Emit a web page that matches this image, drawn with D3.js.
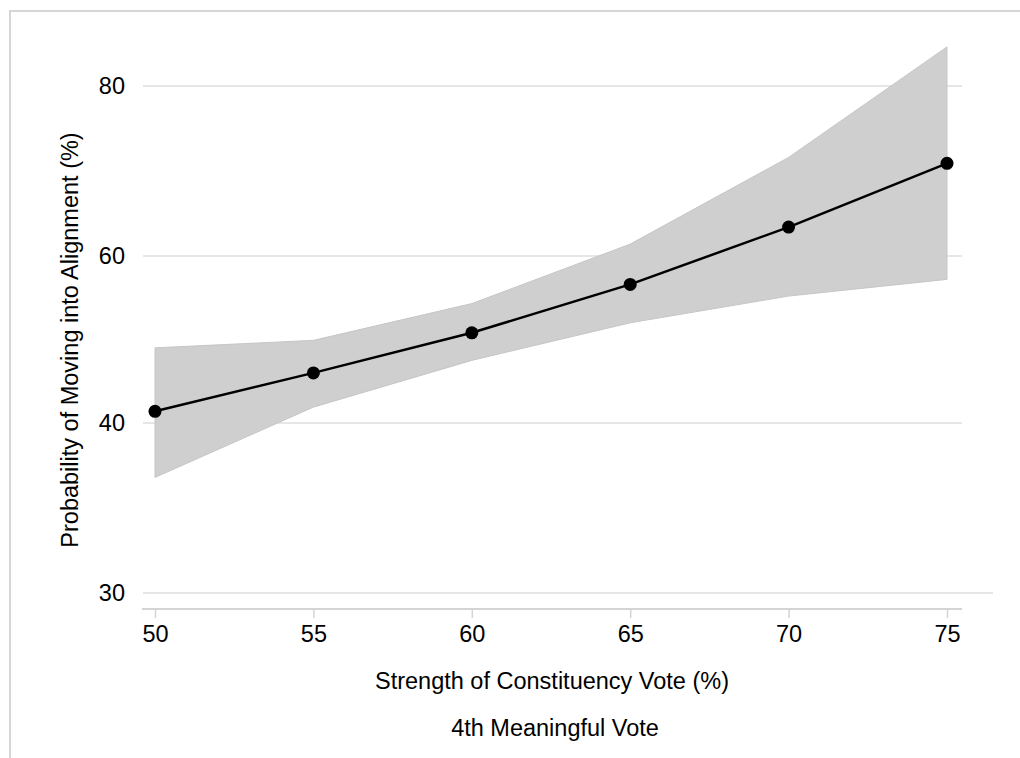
<!DOCTYPE html>
<html>
<head>
<meta charset="utf-8">
<script src="https://cdn.jsdelivr.net/npm/d3@7"></script>
<style>
  body { margin: 0; background: #fff; }
  svg { display: block; font-family: "Liberation Sans", Arial, sans-serif; }
</style>
</head>
<body>
<div id="chart"></div>
<script>
// values
const voteShare = [50, 55, 60, 65, 70, 75];
const probability = [41.4, 46.0, 50.8, 56.6, 63.4, 70.9];
const upperCI = [49.0, 49.9, 54.3, 61.4, 71.6, 84.6];
const lowerCI = [36.8, 41.9, 47.5, 52.0, 55.2, 57.2];
const yTicks = [30, 40, 60, 80];
const xTicks = [50, 55, 60, 65, 70, 75];

const width = 1020, height = 758;
const fontSize = 23.5;

const svg = d3.select('#chart')
    .append('svg')
        .attr('width', width)
        .attr('height', height);

// frame (top + left only, like the source)
svg.append('path')
    .attr('d', 'M10,' + height + 'V11H' + width)
    .attr('fill', 'none')
    .attr('stroke', '#d6d6d6')
    .attr('stroke-width', 2);

const x = d3.scaleLinear()
    .domain([50, 75])
    .range([155, 947]);

// the y ticks are spaced evenly even though the values are not
const y = d3.scaleLinear()
    .domain(yTicks)
    .range([593, 423, 256, 86]);

// gridlines
svg.append('g')
    .selectAll('line')
    .data(yTicks)
    .enter()
    .append('line')
        .attr('x1', 143)
        .attr('x2', d => d === 30 ? 993 : 962)
        .attr('y1', d => y(d))
        .attr('y2', d => y(d))
        .attr('stroke', '#e6e6e6')
        .attr('stroke-width', 2);

// y tick labels
svg.append('g')
    .selectAll('text')
    .data(yTicks)
    .enter()
    .append('text')
        .attr('x', 125)
        .attr('y', d => y(d))
        .attr('dy', '0.35em')
        .attr('text-anchor', 'end')
        .attr('font-size', fontSize)
        .attr('fill', '#000')
        .text(d => d);

// confidence band
const band = d3.area()
    .x((d, i) => x(voteShare[i]))
    .y0((d, i) => y(lowerCI[i]))
    .y1((d, i) => y(upperCI[i]));

svg.append('path')
    .datum(voteShare)
    .attr('d', band)
    .attr('fill', '#cfcfcf')
    .attr('stroke', '#c6c6c6')
    .attr('stroke-width', 1);

// x axis
const axis = d3.axisBottom(x)
    .tickValues(xTicks)
    .tickSize(9)
    .tickPadding(7)
    .tickFormat(d3.format('d'));

const gx = svg.append('g')
    .attr('transform', 'translate(0,609)')
    .call(axis);
gx.select('.domain').remove();
gx.selectAll('.tick line').attr('stroke', '#d4d4d4').attr('stroke-width', 1.5);
gx.selectAll('.tick text')
    .attr('font-size', fontSize)
    .attr('font-family', '"Liberation Sans", Arial, sans-serif')
    .attr('fill', '#000');

svg.append('line')
    .attr('x1', 142)
    .attr('x2', 962)
    .attr('y1', 609)
    .attr('y2', 609)
    .attr('stroke', '#d4d4d4')
    .attr('stroke-width', 2);

// estimate line + markers
const line = d3.line()
    .x((d, i) => x(voteShare[i]))
    .y((d, i) => y(probability[i]));

svg.append('path')
    .datum(probability)
    .attr('d', line)
    .attr('fill', 'none')
    .attr('stroke', '#000')
    .attr('stroke-width', 2.5);

svg.append('g')
    .selectAll('circle')
    .data(probability)
    .enter()
    .append('circle')
        .attr('cx', (d, i) => x(voteShare[i]))
        .attr('cy', d => y(d))
        .attr('r', 6.5)
        .attr('fill', '#000');

// titles
svg.append('text')
    .attr('x', 552)
    .attr('y', 681)
    .attr('dy', '0.35em')
    .attr('text-anchor', 'middle')
    .attr('font-size', fontSize)
    .attr('fill', '#000')
    .text('Strength of Constituency Vote (%)');

svg.append('text')
    .attr('x', 555)
    .attr('y', 728)
    .attr('dy', '0.35em')
    .attr('text-anchor', 'middle')
    .attr('font-size', fontSize)
    .attr('fill', '#000')
    .text('4th Meaningful Vote');

svg.append('text')
    .attr('transform', 'translate(70,340) rotate(-90)')
    .attr('dy', '0.35em')
    .attr('text-anchor', 'middle')
    .attr('font-size', fontSize)
    .attr('fill', '#000')
    .text('Probability of Moving into Alignment (%)');
</script>
</body>
</html>
